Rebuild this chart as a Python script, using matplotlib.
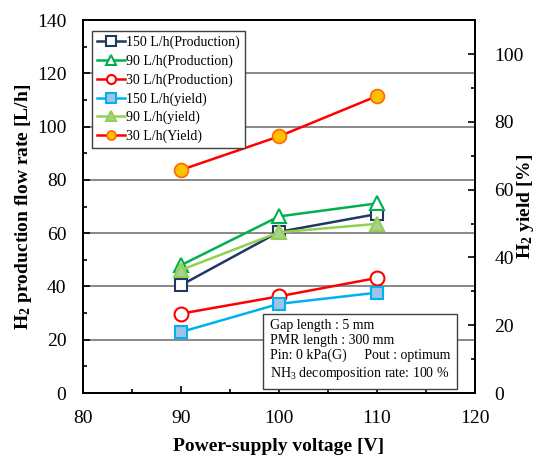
import matplotlib
matplotlib.use("Agg")
import matplotlib.pyplot as plt
from matplotlib.ticker import MultipleLocator

plt.rcParams['font.family'] = ['Liberation Serif', 'DejaVu Serif']
plt.rcParams['mathtext.fontset'] = 'custom'
plt.rcParams['mathtext.rm'] = 'Liberation Serif'
plt.rcParams['mathtext.bf'] = 'Liberation Serif:bold'
plt.rcParams['mathtext.it'] = 'Liberation Serif:italic'

voltage = [90, 100, 110]
prod_150 = [40.5, 60.5, 67.2]
prod_90 = [48.0, 66.3, 71.2]
prod_30 = [29.8, 36.3, 43.2]
yield_150 = [18.0, 26.3, 29.6]
yield_90 = [36.3, 47.4, 49.9]
yield_30 = [65.8, 75.7, 87.6]

labels = ['150 L/h(Production)', '90 L/h(Production)', '30 L/h(Production)',
          '150 L/h(yield)', '90 L/h(yield)', '30 L/h(Yield)']

fig = plt.figure(figsize=(5.36, 4.57), dpi=100)
ax = fig.add_axes([0.1549, 0.140, 0.7313, 0.816])
ax2 = ax.twinx()

ax.set_xlim(80, 120)
ax.set_ylim(0, 140)
ax2.set_ylim(0, 110)

for y in range(20, 140, 20):
    ax.axhline(y, color='#808080', lw=1.3, zorder=0)

lw = 1.8
ms = 9
h1, = ax.plot(voltage, prod_150, color='#1F3864', lw=lw, marker='s', ms=ms,
              mfc='white', mec='#1F3864', mew=1.5, zorder=3)
h2, = ax.plot(voltage, prod_90, color='#00B050', lw=lw, marker='^', ms=ms + 1,
              mfc='white', mec='#00B050', mew=1.5, zorder=3)
h3, = ax.plot(voltage, prod_30, color='#FF0000', lw=lw, marker='o', ms=ms + 1,
              mfc='white', mec='#FF0000', mew=1.5, zorder=3)
h4, = ax2.plot(voltage, yield_150, color='#00B0F0', lw=lw, marker='s', ms=ms,
               mfc='#9DC3E6', mec='#00B0F0', mew=1.5, zorder=3)
h5, = ax2.plot(voltage, yield_90, color='#92D050', lw=lw, marker='^', ms=ms + 1,
               mfc='#A9D18E', mec='#92D050', mew=1.5, zorder=3)
h6, = ax2.plot(voltage, yield_30, color='#FF0000', lw=lw, marker='o', ms=ms + 1,
               mfc='#FFC000', mec='#FF6600', mew=1.2, zorder=3)

ax.xaxis.set_major_locator(MultipleLocator(10))
ax.xaxis.set_minor_locator(MultipleLocator(5))
ax.yaxis.set_major_locator(MultipleLocator(20))
ax.yaxis.set_minor_locator(MultipleLocator(10))
ax2.yaxis.set_major_locator(MultipleLocator(20))
ax2.yaxis.set_minor_locator(MultipleLocator(10))
ax2.set_yticks(range(0, 101, 20))

ax.tick_params(axis='both', which='both', direction='in', labelsize=14, top=False, right=False, width=1.2)
ax.tick_params(which='major', length=5)
ax.tick_params(which='minor', length=3)
ax.tick_params(axis='x', pad=12)
ax.tick_params(axis='y', pad=12)
ax2.tick_params(axis='y', which='both', direction='in', labelsize=14, width=1.2, pad=14)
ax2.tick_params(which='major', length=5)
ax2.tick_params(which='minor', length=3)

for a in (ax, ax2):
    for s in a.spines.values():
        s.set_linewidth(1.3)
        s.set_color('black')

ax.set_xlabel('Power-supply voltage [V]', fontsize=14, fontweight='bold', labelpad=8)
ax.set_ylabel(r'H$_{\mathbf{2}}$ production flow rate [L/h]', fontsize=14, fontweight='bold', labelpad=2)
ax2.set_ylabel(r'H$_{\mathbf{2}}$ yield [%]', fontsize=14, fontweight='bold', labelpad=-6)

ax2.set_zorder(ax.get_zorder() + 1)
ax2.patch.set_visible(False)

leg = ax2.legend([h1, h2, h3, h4, h5, h6], labels, loc='upper left',
                 bbox_to_anchor=(0.023, 0.971), fontsize=10, frameon=True,
                 fancybox=False, edgecolor='#404040', framealpha=1,
                 handlelength=2.0, handletextpad=0.1, labelspacing=0.38,
                 borderpad=0.35, borderaxespad=0)
leg.get_frame().set_linewidth(1.0)
for h in leg.legend_handles:
    h.set_markersize(6.5)

txt = ('Gap length : 5 mm\nPMR length : 300 mm\n'
       'Pin: 0 kPa(G)     Pout : optimum\n'
       'NH$_3$ decomposition rate: 100 %')
ax2.text(0.476, 0.03, txt, transform=ax2.transAxes, fontsize=10,
         ha='left', va='bottom', linespacing=1.2,
         bbox=dict(boxstyle='square,pad=0.5', fc='white', ec='#404040', lw=1.0),
         zorder=5)

fig.savefig('out.png', dpi=100)
